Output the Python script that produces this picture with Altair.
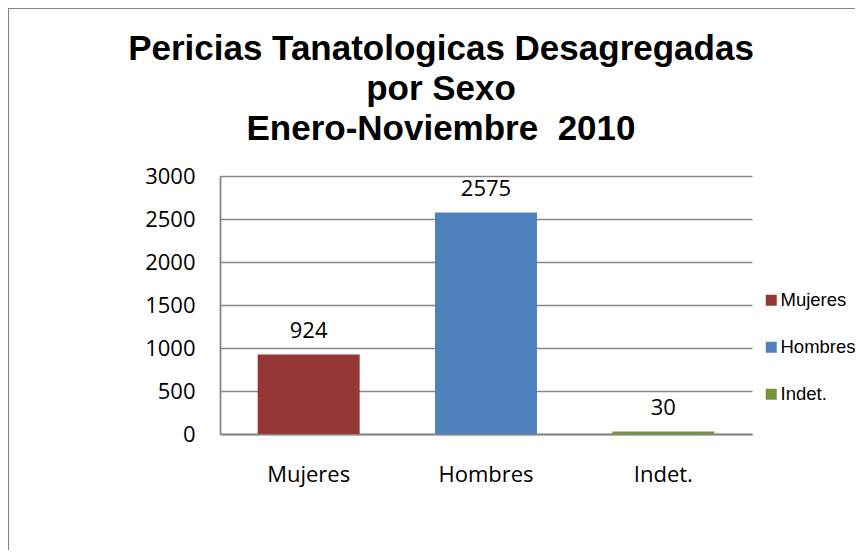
import altair as alt
import pandas as pd

categories = ["Mujeres", "Hombres", "Indet."]
values = [924, 2575, 30]
colors = ["#953735", "#4F81BD", "#77933C"]
y_ticks = [0, 500, 1000, 1500, 2000, 2500, 3000]
title_lines = ["Pericias Tanatologicas Desagregadas", "por Sexo", "Enero-Noviembre\u00a0 2010"]

df = pd.DataFrame({"cat": categories, "val": values})
one = pd.DataFrame({"k": [0]})

x_enc = alt.X("cat:N", sort=categories, title=None,
              scale=alt.Scale(paddingInner=0.425, paddingOuter=0.2125),
              axis=alt.Axis(labelAngle=0, labelFont="Open Sans", labelFontSize=22,
                            labelColor="#000000", ticks=False, tickSize=0, labelPadding=30,
                            domainColor="#878787", domainWidth=1.8, grid=False))
y_enc = alt.Y("val:Q", title=None,
              scale=alt.Scale(domain=[0, 3000], nice=False),
              axis=alt.Axis(values=y_ticks, format="d", labelFont="Open Sans", labelFontSize=22,
                            labelColor="#000000", ticks=False, tickSize=0, labelPadding=25,
                            domainColor="#878787", domainWidth=1.8,
                            gridColor="#878787", gridWidth=1.3))

bars = alt.Chart(df).mark_bar().encode(
    x=x_enc,
    y=y_enc,
    color=alt.Color("cat:N", sort=categories,
                    scale=alt.Scale(domain=categories, range=colors),
                    legend=alt.Legend(title=None, orient="none", legendX=542, legendY=115,
                                      symbolType="square", symbolSize=121,
                                      symbolStrokeWidth=0, labelFont="Liberation Sans",
                                      labelFontSize=18.5, labelColor="#000000",
                                      labelOffset=0, rowPadding=28, padding=0)),
)

labels = alt.Chart(df).mark_text(font="Open Sans", fontSize=22, color="#000000",
                                 baseline="alphabetic", dy=-16.5).encode(
    x=alt.X("cat:N", sort=categories),
    y=alt.Y("val:Q"),
    text=alt.Text("val:Q"),
)

title = alt.Chart(one).mark_text(font="Liberation Sans", fontSize=35, fontWeight="bold",
                                 color="#000000", lineHeight=40, align="center",
                                 baseline="alphabetic").encode(
    x=alt.value(221), y=alt.value(-116), text=alt.value(title_lines))

frame_top = alt.Chart(one).mark_rule(color="#878787", strokeWidth=1.2).encode(
    x=alt.value(-212), x2=alt.value(700), y=alt.value(-167.5))
frame_left = alt.Chart(one).mark_rule(color="#878787", strokeWidth=1.2).encode(
    x=alt.value(-211.5), y=alt.value(-167.5), y2=alt.value(400))

chart = alt.layer(frame_top, frame_left, bars, labels, title).properties(
    width=532, height=258,
    autosize=alt.AutoSizeParams(type="none"),
    padding={"left": 212, "top": 168, "right": 103, "bottom": 116},
).configure_view(stroke=None)

chart.save("out.html", embed_options={"renderer": "svg", "actions": False})
